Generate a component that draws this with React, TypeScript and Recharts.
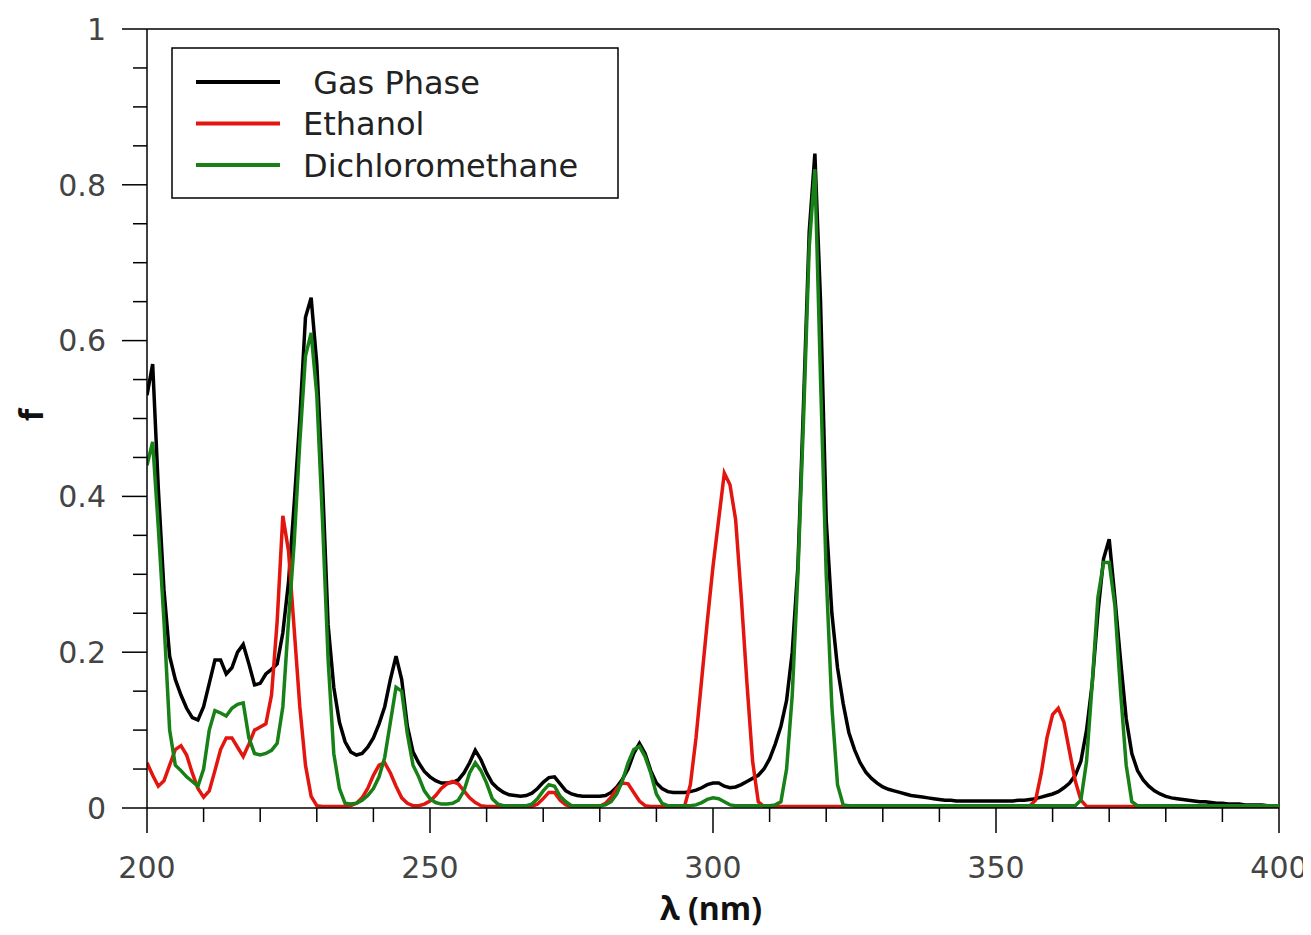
import { LineChart, Line, XAxis, YAxis, ReferenceLine } from "recharts"

// wavelength grid, 1 nm step
const lambdaStart = 200
const lambdas = Array.from({ length: 201 }, (_, i) => lambdaStart + i)

// oscillator strength f (200..400 nm)
const gasPhase = [
  0.53, 0.57, 0.41, 0.28, 0.195, 0.165, 0.145, 0.128, 0.116, 0.113, // 200
  0.13, 0.16, 0.19, 0.19, 0.172, 0.18, 0.2, 0.21, 0.185, 0.158, // 210
  0.16, 0.172, 0.178, 0.185, 0.225, 0.29, 0.39, 0.5, 0.63, 0.655, // 220
  0.57, 0.42, 0.235, 0.155, 0.11, 0.085, 0.072, 0.068, 0.07, 0.078, // 230
  0.09, 0.108, 0.13, 0.165, 0.195, 0.165, 0.105, 0.072, 0.058, 0.047, // 240
  0.04, 0.035, 0.032, 0.032, 0.033, 0.036, 0.045, 0.058, 0.074, 0.062, // 250
  0.045, 0.032, 0.025, 0.02, 0.017, 0.016, 0.015, 0.016, 0.019, 0.025, // 260
  0.033, 0.039, 0.04, 0.031, 0.022, 0.018, 0.016, 0.015, 0.015, 0.015, // 270
  0.015, 0.016, 0.02, 0.027, 0.037, 0.05, 0.07, 0.083, 0.07, 0.048, // 280
  0.032, 0.025, 0.021, 0.02, 0.02, 0.02, 0.021, 0.023, 0.026, 0.03, // 290
  0.032, 0.032, 0.028, 0.026, 0.027, 0.03, 0.034, 0.038, 0.042, 0.05, // 300
  0.063, 0.082, 0.105, 0.138, 0.2, 0.31, 0.52, 0.74, 0.84, 0.65, // 310
  0.37, 0.25, 0.18, 0.134, 0.097, 0.075, 0.058, 0.046, 0.038, 0.032, // 320
  0.027, 0.024, 0.022, 0.02, 0.018, 0.016, 0.015, 0.014, 0.013, 0.012, // 330
  0.011, 0.01, 0.01, 0.009, 0.009, 0.009, 0.009, 0.009, 0.009, 0.009, // 340
  0.009, 0.009, 0.009, 0.009, 0.01, 0.01, 0.011, 0.012, 0.014, 0.016, // 350
  0.018, 0.021, 0.026, 0.032, 0.042, 0.06, 0.1, 0.16, 0.25, 0.32, // 360
  0.345, 0.27, 0.19, 0.115, 0.07, 0.048, 0.036, 0.028, 0.022, 0.018, // 370
  0.015, 0.013, 0.012, 0.011, 0.01, 0.009, 0.008, 0.008, 0.007, 0.006, // 380
  0.006, 0.005, 0.005, 0.005, 0.004, 0.004, 0.004, 0.004, 0.003, 0.003, // 390
  0.003, // 400
]

const ethanol = [
  0.058, 0.042, 0.028, 0.035, 0.055, 0.075, 0.08, 0.068, 0.045, 0.025, // 200
  0.014, 0.022, 0.048, 0.075, 0.09, 0.09, 0.078, 0.066, 0.082, 0.1, // 210
  0.104, 0.108, 0.145, 0.24, 0.375, 0.33, 0.23, 0.13, 0.055, 0.015, // 220
  0.003, 0.002, 0.002, 0.002, 0.002, 0.002, 0.003, 0.006, 0.013, 0.025, // 230
  0.042, 0.055, 0.058, 0.045, 0.028, 0.013, 0.006, 0.003, 0.003, 0.005, // 240
  0.009, 0.016, 0.025, 0.031, 0.034, 0.031, 0.022, 0.013, 0.007, 0.003, // 250
  0.002, 0.002, 0.002, 0.002, 0.002, 0.002, 0.002, 0.002, 0.002, 0.005, // 260
  0.012, 0.02, 0.02, 0.01, 0.004, 0.002, 0.002, 0.002, 0.002, 0.002, // 270
  0.002, 0.006, 0.014, 0.025, 0.032, 0.031, 0.02, 0.009, 0.003, 0.002, // 280
  0.002, 0.002, 0.002, 0.002, 0.002, 0.003, 0.03, 0.09, 0.165, 0.24, // 290
  0.31, 0.37, 0.43, 0.415, 0.37, 0.27, 0.16, 0.06, 0.008, 0.002, // 300
  0.002, 0.002, 0.002, 0.002, 0.002, 0.002, 0.002, 0.002, 0.002, 0.002, // 310
  0.002, 0.002, 0.002, 0.002, 0.002, 0.002, 0.002, 0.002, 0.002, 0.002, // 320
  0.002, 0.002, 0.002, 0.002, 0.002, 0.002, 0.002, 0.002, 0.002, 0.002, // 330
  0.002, 0.002, 0.002, 0.002, 0.002, 0.002, 0.002, 0.002, 0.002, 0.002, // 340
  0.002, 0.002, 0.002, 0.002, 0.002, 0.002, 0.003, 0.01, 0.045, 0.09, // 350
  0.12, 0.128, 0.11, 0.072, 0.035, 0.01, 0.002, 0.002, 0.002, 0.002, // 360
  0.002, 0.002, 0.002, 0.002, 0.002, 0.002, 0.002, 0.002, 0.002, 0.002, // 370
  0.002, 0.002, 0.002, 0.002, 0.002, 0.002, 0.002, 0.002, 0.002, 0.002, // 380
  0.002, 0.002, 0.002, 0.002, 0.002, 0.002, 0.002, 0.002, 0.002, 0.002, // 390
  0.002, // 400
]

const dichloromethane = [
  0.44, 0.47, 0.36, 0.24, 0.1, 0.055, 0.048, 0.04, 0.034, 0.028, // 200
  0.05, 0.1, 0.125, 0.122, 0.118, 0.128, 0.133, 0.135, 0.09, 0.07, // 210
  0.068, 0.07, 0.074, 0.083, 0.13, 0.24, 0.34, 0.47, 0.58, 0.61, // 220
  0.53, 0.37, 0.19, 0.07, 0.025, 0.006, 0.005, 0.006, 0.01, 0.016, // 230
  0.025, 0.04, 0.065, 0.11, 0.155, 0.15, 0.095, 0.055, 0.04, 0.022, // 240
  0.012, 0.007, 0.005, 0.005, 0.006, 0.01, 0.022, 0.045, 0.058, 0.048, // 250
  0.032, 0.012, 0.005, 0.003, 0.003, 0.003, 0.003, 0.003, 0.005, 0.012, // 260
  0.022, 0.03, 0.028, 0.015, 0.008, 0.003, 0.003, 0.003, 0.003, 0.003, // 270
  0.003, 0.004, 0.008, 0.018, 0.035, 0.058, 0.075, 0.079, 0.066, 0.045, // 280
  0.018, 0.006, 0.003, 0.003, 0.003, 0.003, 0.003, 0.004, 0.007, 0.011, // 290
  0.013, 0.012, 0.008, 0.004, 0.003, 0.003, 0.003, 0.003, 0.003, 0.003, // 300
  0.003, 0.004, 0.008, 0.05, 0.145, 0.3, 0.5, 0.72, 0.82, 0.55, // 310
  0.3, 0.13, 0.03, 0.004, 0.003, 0.003, 0.003, 0.003, 0.003, 0.003, // 320
  0.003, 0.003, 0.003, 0.003, 0.003, 0.003, 0.003, 0.003, 0.003, 0.003, // 330
  0.003, 0.003, 0.003, 0.003, 0.003, 0.003, 0.003, 0.003, 0.003, 0.003, // 340
  0.003, 0.003, 0.003, 0.003, 0.003, 0.003, 0.003, 0.003, 0.003, 0.003, // 350
  0.003, 0.003, 0.003, 0.003, 0.003, 0.01, 0.06, 0.16, 0.27, 0.315, // 360
  0.315, 0.26, 0.15, 0.055, 0.008, 0.003, 0.003, 0.003, 0.003, 0.003, // 370
  0.003, 0.003, 0.003, 0.003, 0.003, 0.003, 0.003, 0.003, 0.003, 0.003, // 380
  0.003, 0.003, 0.003, 0.003, 0.003, 0.003, 0.003, 0.003, 0.003, 0.003, // 390
  0.003, // 400
]

const seriesKeys = ["gas", "ethanol", "dcm"]
const seriesNames = [" Gas Phase", "Ethanol", "Dichloromethane"]
const seriesColors = ["#000000", "#e3150f", "#178017"]

const xTicks = [200, 210, 220, 230, 240, 250, 260, 270, 280, 290, 300, 310, 320, 330, 340, 350, 360, 370, 380, 390, 400]
const yTicks = [0, 0.05, 0.1, 0.15, 0.2, 0.25, 0.3, 0.35, 0.4, 0.45, 0.5, 0.55, 0.6, 0.65, 0.7, 0.75, 0.8, 0.85, 0.9, 0.95, 1]

const rows = lambdas.map((l, i) => ({
  lambda: l,
  gas: gasPhase[i],
  ethanol: ethanol[i],
  dcm: dichloromethane[i],
}))

const font = "'DejaVu Sans', sans-serif"
const titleFont = "'Open Sans', 'DejaVu Sans', sans-serif"

function XTick(props: any) {
  const { x, y, payload } = props
  const v = payload.value
  const major = v % 50 === 0
  return (
    <g>
      <line x1={x} y1={y} x2={x} y2={y + (major ? 25 : 14)} stroke="#000" strokeWidth={1.5} />
      {major && (
        <text x={x} y={y + 70} textAnchor="middle" fontFamily={font} fontSize={30} fill="#444">
          {v}
        </text>
      )}
    </g>
  )
}

function YTick(props: any) {
  const { x, y, payload } = props
  const v = payload.value
  const major = Math.round(v * 100) % 20 === 0
  return (
    <g>
      <line x1={x} y1={y} x2={x - (major ? 25 : 14)} y2={y} stroke="#000" strokeWidth={1.5} />
      {major && (
        <text x={x - 41} y={y} dy="0.36em" textAnchor="end" fontFamily={font} fontSize={30} fill="#444">
          {String(Math.round(v * 10) / 10)}
        </text>
      )}
    </g>
  )
}

export default function App() {
  return (
    <div style={{ position: "relative", width: 1303, height: 927, background: "#fff" }}>
      <LineChart width={1303} height={927} data={rows} margin={{ top: 21, right: 32, bottom: 0, left: 0 }}>
        <XAxis
          dataKey="lambda"
          type="number"
          domain={[200, 400]}
          ticks={xTicks}
          interval={0}
          height={127}
          tick={<XTick />}
          tickLine={false}
          tickSize={0}
          tickMargin={0}
          axisLine={{ stroke: "#000", strokeWidth: 1.5 }}
          allowDataOverflow
        />
        <YAxis
          type="number"
          domain={[0, 1]}
          ticks={yTicks}
          interval={0}
          width={139}
          tick={<YTick />}
          tickLine={false}
          tickSize={0}
          tickMargin={0}
          axisLine={{ stroke: "#000", strokeWidth: 1.5 }}
          allowDataOverflow
        />
        <ReferenceLine y={1} stroke="#000" strokeWidth={1.5} />
        <ReferenceLine x={400} stroke="#000" strokeWidth={1.5} />
        {seriesKeys.map((k, i) => (
          <Line
            key={k}
            dataKey={k}
            type="linear"
            stroke={seriesColors[i]}
            strokeWidth={3.5}
            dot={false}
            isAnimationActive={false}
          />
        ))}
      </LineChart>
      <svg
        width={1303}
        height={927}
        style={{ position: "absolute", left: 0, top: 0, pointerEvents: "none" }}
      >
        <rect x={164} y={40} width={446} height={150} fill="#fff" stroke="#000" strokeWidth={1.5} />
        {seriesNames.map((name, i) => (
          <g key={name}>
            <line x1={188} x2={272} y1={74 + i * 41.5} y2={74 + i * 41.5} stroke={seriesColors[i]} strokeWidth={4} />
            <text
              x={295}
              y={74 + i * 41.5}
              dy="0.36em"
              fontFamily={font}
              fontSize={32}
              fill="#222"
              style={{ whiteSpace: "pre" }}
            >
              {name}
            </text>
          </g>
        ))}
        <text
          x={24}
          y={407}
          dy="0.35em"
          textAnchor="middle"
          fontFamily={titleFont}
          fontSize={32}
          fontWeight="bold"
          fill="#111"
          transform="rotate(-90 24 407)"
        >
          f
        </text>
        <text x={703} y={912} textAnchor="middle" fontFamily={titleFont} fontSize={32} fontWeight="bold" fill="#111">
          λ (nm)
        </text>
      </svg>
    </div>
  )
}
